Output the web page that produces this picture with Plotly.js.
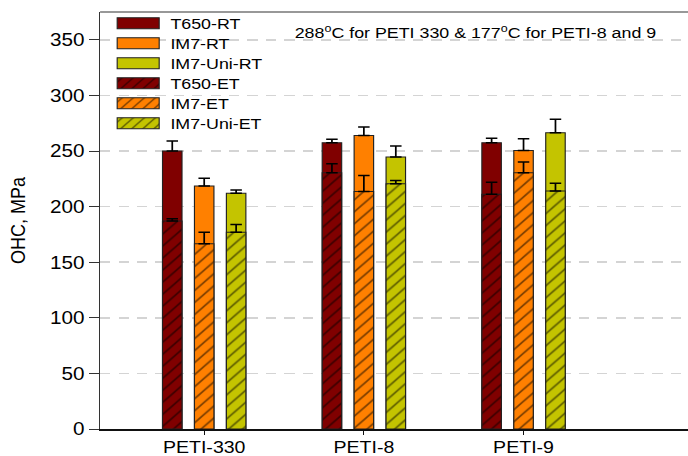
<!DOCTYPE html>
<html>
<head>
<meta charset="utf-8">
<script src="https://cdn.plot.ly/plotly-3.0.1.min.js"></script>
<style>
html,body{margin:0;padding:0;background:#fff;overflow:hidden;}
#chart{width:598px;height:456px;transform:scaleX(1.1505);transform-origin:0 0;}
</style>
</head>
<body>
<div id="chart"></div>
<script>
const categories = ['PETI-330', 'PETI-8', 'PETI-9'];
const seriesNames = ['T650-RT', 'IM7-RT', 'IM7-Uni-RT', 'T650-ET', 'IM7-ET', 'IM7-Uni-ET'];
const t650RT = [250, 257.5, 257.5];
const t650RTerr = [9, 3, 4];
const im7RT = [218.5, 264, 250.5];
const im7RTerr = [7, 7.5, 10.5];
const uniRT = [212, 244.5, 266.5];
const uniRTerr = [3, 10, 12];
const t650ET = [187, 230.5, 211];
const t650ETerr = [2, 8, 11];
const im7ET = [166.5, 213.5, 230.5];
const im7ETerr = [10.5, 14.5, 9.5];
const uniET = [177, 220.5, 214];
const uniETerr = [7, 3, 7];
const yTicks = [0, 50, 100, 150, 200, 250, 300, 350];
const note = '288<sup>o</sup>C for PETI 330 & 177<sup>o</sup>C for PETI-8 and 9';

const colors = ['#800000', '#ff8000', '#c4c400'];
const barW = 0.122;
const offs = [-0.2 - barW / 2, -barW / 2, 0.2 - barW / 2];

function mk(name, y, err, ci, hatched) {
  const t = {
    type: 'bar', name: name, x: categories, y: y,
    width: barW, offset: offs[ci],
    marker: {color: colors[ci], line: {color: '#222', width: 1}},
    error_y: {type: 'data', symmetric: false, array: err, arrayminus: [0, 0, 0],
              color: '#000', thickness: 1.5, width: 5},
    showlegend: true
  };
  if (hatched) {
    t.marker.pattern = {shape: '/', fgcolor: '#000', bgcolor: colors[ci], fillmode: 'overlay', size: 8.5, solidity: 0.2};
  }
  return t;
}

const data = [
  mk(seriesNames[0], t650RT, t650RTerr, 0, false),
  mk(seriesNames[1], im7RT, im7RTerr, 1, false),
  mk(seriesNames[2], uniRT, uniRTerr, 2, false),
  mk(seriesNames[3], t650ET, t650ETerr, 0, true),
  mk(seriesNames[4], im7ET, im7ETerr, 1, true),
  mk(seriesNames[5], uniET, uniETerr, 2, true)
];

const layout = {
  width: 598, height: 456,
  margin: {l: 87, r: 0, t: 11.5, b: 27},
  paper_bgcolor: '#fff', plot_bgcolor: '#fff',
  barmode: 'overlay',
  font: {family: 'Liberation Sans, Arial, sans-serif', color: '#000'},
  showlegend: true,
  legend: {x: 0.01, y: 0.995, xanchor: 'left', yanchor: 'top', bgcolor: 'rgba(0,0,0,0)',
           font: {size: 15.5, color: '#000'}, itemwidth: 46, traceorder: 'normal'},
  xaxis: {range: [-0.652, 3.03], showgrid: false, zeroline: false, showline: true,
          linecolor: '#111', linewidth: 1.5, ticks: 'outside', ticklen: 4, tickcolor: '#111',
          tickfont: {size: 17}, ticklabelstandoff: -2, fixedrange: true},
  yaxis: {range: [0, 375], tickvals: yTicks, showgrid: true, gridcolor: '#d4d4d4', gridwidth: 1.5,
          griddash: '9px,7px', zeroline: false, showline: true, linecolor: '#333', linewidth: 1,
          ticks: 'outside', ticklen: 9, tickcolor: '#333', tickfont: {size: 18},
          title: {text: 'OHC, MPa', font: {size: 18}, standoff: 16}},
  shapes: [{type: 'line', xref: 'paper', yref: 'paper', x0: 0, x1: 1, y0: 1, y1: 1,
            line: {color: '#333', width: 1}}],
  annotations: [{text: note, xref: 'paper', yref: 'paper', x: 0.326, y: 0.953,
                 xanchor: 'left', yanchor: 'middle', showarrow: false, font: {size: 15.5, color: '#000'}}]
};

Plotly.newPlot('chart', data, layout, {displayModeBar: false, staticPlot: true}).then(function (gd) {
  gd.querySelectorAll('.legendpoints path').forEach(function (p) {
    p.setAttribute('d', 'M18.25,5.5H-18.25V-5.5H18.25Z');
  });
  const items = gd.querySelectorAll('.legend g.traces');
  let x0 = null, y0 = null;
  items.forEach(function (g, i) {
    const m = /translate\(([-\d.]+),\s*([-\d.]+)\)/.exec(g.getAttribute('transform') || '');
    if (!m) return;
    if (x0 === null) { x0 = parseFloat(m[1]); y0 = parseFloat(m[2]) - 7.5; }
    g.setAttribute('transform', 'translate(' + x0 + ',' + (y0 + i * 20) + ')');
  });
});
</script>
</body>
</html>
